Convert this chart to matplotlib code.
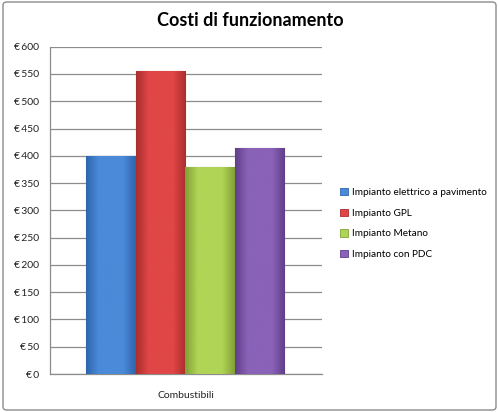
import matplotlib
matplotlib.use("Agg")
import matplotlib.pyplot as plt
import numpy as np
from matplotlib.patches import FancyBboxPatch, Patch
from matplotlib.colors import LinearSegmentedColormap

plt.rcParams['font.family'] = ['Lato', 'DejaVu Sans']

title = "Costi di funzionamento"
category = "Combustibili"
series = ["Impianto elettrico a pavimento", "Impianto GPL", "Impianto Metano", "Impianto con PDC"]
values = [400, 556, 380, 414]
colors_mid = ["#4a8ad8", "#e04646", "#b0d455", "#8a62b8"]
colors_edge = ["#2f66ad", "#ab2e2e", "#82a236", "#603f8a"]
yticks = [0, 50, 100, 150, 200, 250, 300, 350, 400, 450, 500, 550, 600]

fig = plt.figure(figsize=(4.98, 4.12), dpi=100)
fig.patch.set_facecolor("white")
border = FancyBboxPatch((3/498, 2/412), 493/498, 408/412, boxstyle="round,pad=0,rounding_size=0.008",
                        transform=fig.transFigure, fill=False, edgecolor="#8c8c8c", linewidth=1.0)
fig.patches.append(border)

ax = fig.add_axes([50/498, 1-374/412, 272/498, (374-46.7)/412])
ax.set_xlim(0, 1)
ax.set_ylim(0, 600)

n = len(values)
bw = 0.182
start = 0.1335
for i, (v, cm, ce) in enumerate(zip(values, colors_mid, colors_edge)):
    x0 = start + i*bw
    bars = ax.bar(x0, v, width=bw, align='edge', color=cm, edgecolor=ce, linewidth=0.8, zorder=3)
    cmap = LinearSegmentedColormap.from_list("g", [ce, cm, cm, cm, ce])
    grad = np.linspace(0, 1, 64).reshape(1, -1)
    im = ax.imshow(grad, extent=[x0, x0+bw, 0, v], aspect='auto', cmap=cmap, zorder=3.5)
    im.set_clip_path(bars.patches[0])
ax.set_xlim(0, 1)
ax.set_ylim(0, 600)

ax.set_yticks(yticks)
ax.set_yticklabels([f"€\u2009{t}" for t in yticks], fontsize=7.5, color="#222222")
ax.set_xticks([0.5])
ax.set_xticklabels([category], fontsize=7.5, color="#222222")
ax.tick_params(axis='y', length=0, pad=8)
ax.tick_params(axis='x', length=0, pad=12)
ax.yaxis.grid(True, color="#8c8c8c", linewidth=0.9, zorder=0)
ax.set_axisbelow(True)
for s in ["top", "right"]:
    ax.spines[s].set_visible(False)
for s in ["left", "bottom"]:
    ax.spines[s].set_color("#8c8c8c")
    ax.spines[s].set_linewidth(0.9)

fig.text(250/498, 1-20/412, title, ha="center", va="center", fontsize=13, fontweight="bold", color="black")

handles = [Patch(facecolor=cm, edgecolor=ce, linewidth=0.6) for cm, ce in zip(colors_mid, colors_edge)]
leg = fig.legend(handles, series, loc="upper left", bbox_to_anchor=(340/498, 1-188/412), frameon=False,
                 fontsize=7.2, handlelength=0.75, handleheight=0.75, handletextpad=0.4, labelspacing=1.15,
                 borderaxespad=0, borderpad=0)

fig.savefig("out.png", dpi=100, facecolor="white")
